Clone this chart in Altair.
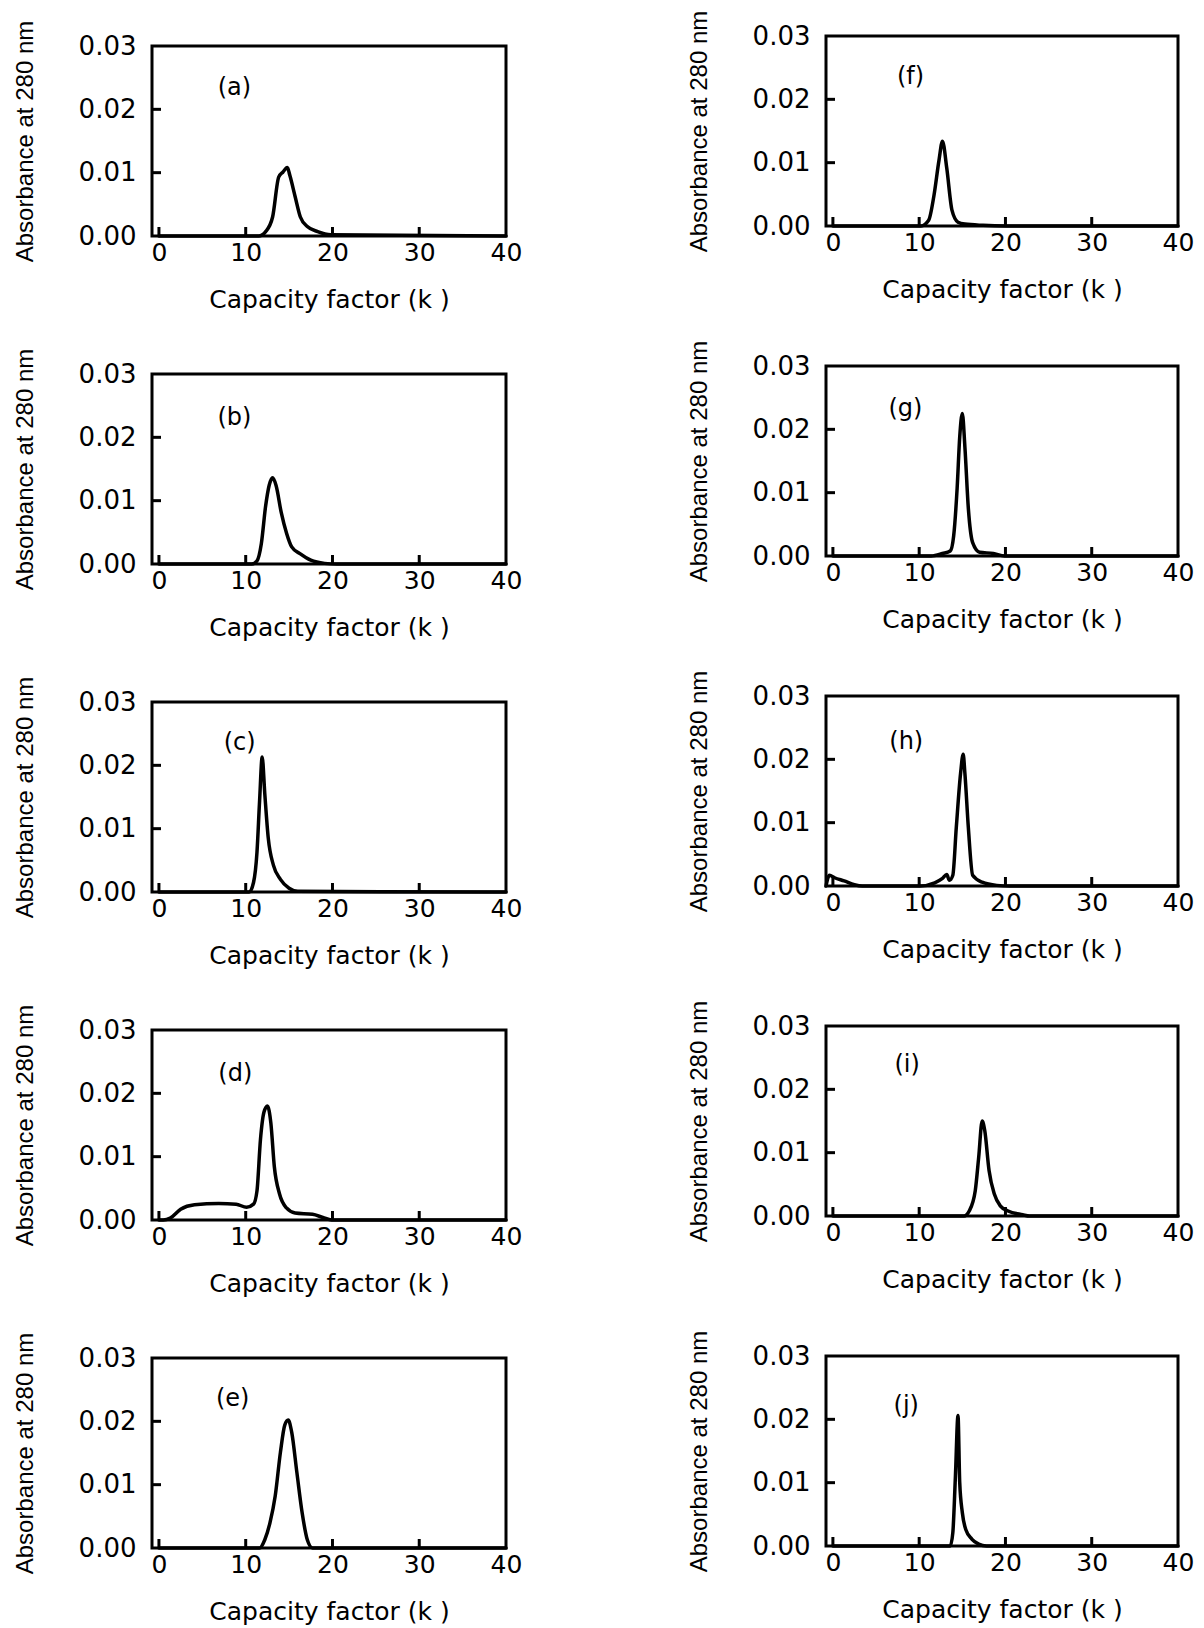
import altair as alt
import pandas as pd

# ---------------- data ----------------
panel_ids = ["a", "b", "c", "d", "e", "f", "g", "h", "i", "j"]
label_k = [8.7, 8.7, 9.3, 8.8, 8.5, 9.0, 8.4, 8.5, 8.6, 8.5]
label_abs = [0.0233, 0.0231, 0.0235, 0.0231, 0.0235, 0.0235, 0.0232, 0.0228, 0.0239, 0.0221]

x_tick_values = [0, 10, 20, 30, 40]
y_tick_values = [0.0, 0.01, 0.02, 0.03]
x_inner_ticks = [0, 10, 20, 30]
y_inner_ticks = [0.01, 0.02]

a_k = [0, 11.5, 12.3, 13.1, 13.8, 14.3, 14.8, 15.1, 15.7, 16.3, 17.1, 18.3, 19.8, 40]
a_abs = [0, 0, 0.0007, 0.003, 0.0093, 0.0101, 0.0108, 0.0095, 0.0062, 0.003, 0.0015, 0.0007, 0.0002, 0]

b_k = [0, 10.7, 11.3, 11.8, 12.3, 12.7, 13.1, 13.5, 14.1, 14.7, 15.3, 16.3, 17.5, 19.1, 20.5, 40]
b_abs = [0, 0, 0.0005, 0.0032, 0.0092, 0.0124, 0.0136, 0.0124, 0.0081, 0.0049, 0.0027, 0.0016, 0.0006, 0.0001, 0, 0]

c_k = [0, 10.4, 10.9, 11.3, 11.6, 11.9, 12.2, 12.6, 13.2, 14.0, 15.0, 16.0, 40]
c_abs = [0, 0, 0.0015, 0.0063, 0.0144, 0.0213, 0.0155, 0.0085, 0.0042, 0.002, 0.0006, 0.0001, 0]

d_k = [0, 0.5, 1.3, 2.5, 4.1, 6.9, 8.9, 10.1, 10.9, 11.3, 11.7, 12.1, 12.5, 12.9, 13.3, 13.9, 14.7, 15.7, 17.7, 18.9, 19.9, 40]
d_abs = [0, 0, 0.0003, 0.0017, 0.0024, 0.0026, 0.0025, 0.002, 0.0025, 0.0046, 0.0127, 0.017, 0.018, 0.0153, 0.0084, 0.0041, 0.0019, 0.0011, 0.0009, 0.0004, 0, 0]

e_k = [0, 11.6, 12.2, 12.8, 13.4, 14.0, 14.5, 14.9, 15.3, 15.9, 16.5, 17.1, 17.7, 40]
e_abs = [0, 0, 0.0013, 0.004, 0.0082, 0.0151, 0.0194, 0.0202, 0.0183, 0.0119, 0.0056, 0.0013, 0, 0]

f_k = [0, 10.2, 11.1, 11.7, 12.3, 12.7, 13.2, 13.8, 14.5, 15.3, 17.4, 20.0, 40]
f_abs = [0, 0, 0.0009, 0.0047, 0.0104, 0.0134, 0.0091, 0.0025, 0.0006, 0.0003, 0.0001, 0, 0]

g_k = [0, 11.4, 12.7, 13.6, 14.0, 14.4, 14.7, 15.0, 15.3, 15.7, 16.2, 17.0, 18.6, 19.9, 40]
g_abs = [0, 0, 0.0004, 0.0008, 0.0032, 0.0107, 0.0188, 0.0225, 0.0172, 0.0075, 0.0021, 0.0006, 0.0004, 0, 0]

h_k = [-0.8, -0.4, 0.2, 1.3, 2.5, 3.4, 10.1, 11.8, 12.7, 13.2, 13.5, 13.9, 14.3, 14.8, 15.1, 15.3, 15.7, 16.2, 17.3, 19.0, 20.5, 40]
h_abs = [0, 0.0017, 0.0013, 0.0008, 0.0002, 0, 0, 0.0005, 0.0012, 0.0018, 0.0009, 0.0017, 0.0092, 0.0178, 0.0208, 0.0178, 0.0092, 0.0017, 0.0006, 0.0001, 0, 0]

i_k = [0, 15.2, 15.8, 16.5, 16.9, 17.3, 17.6, 18.1, 18.7, 19.4, 20.3, 22.0, 22.8, 40]
i_abs = [0, 0, 0.0008, 0.004, 0.0093, 0.015, 0.0135, 0.0072, 0.0035, 0.0016, 0.0008, 0.0002, 0, 0]

j_k = [0, 13.6, 13.9, 14.2, 14.5, 14.7, 15.0, 15.4, 16.1, 16.9, 17.8, 40]
j_abs = [0, 0, 0.0021, 0.011, 0.0206, 0.01, 0.0053, 0.0026, 0.0011, 0.0003, 0, 0]

series = {
    "a": (a_k, a_abs), "b": (b_k, b_abs), "c": (c_k, c_abs), "d": (d_k, d_abs),
    "e": (e_k, e_abs), "f": (f_k, f_abs), "g": (g_k, g_abs), "h": (h_k, h_abs),
    "i": (i_k, i_abs), "j": (j_k, j_abs),
}

# ---------------- style ----------------
TICK_FONT = "DejaVu Sans"
YTITLE_FONT = "Liberation Sans"
LEFT_W, RIGHT_W, PANEL_H = 354, 352, 190
INNER_TICK = 9


def panel(pid, width, height):
    ks, vals = series[pid]
    idx = panel_ids.index(pid)
    xs = alt.Scale(domain=[-0.8, 40], nice=False, zero=False)
    ys = alt.Scale(domain=[0, 0.03], nice=False, zero=False)
    xax = alt.Axis(values=x_tick_values, format="d", title="Capacity factor (k )",
                   labelFlush=False, ticks=False, domain=False, grid=False,
                   labelPadding=4, titlePadding=22,
                   labelFont=TICK_FONT, labelFontSize=25, labelColor="black",
                   titleFont=TICK_FONT, titleFontSize=25, titleFontWeight="normal",
                   titleColor="black")
    yax = alt.Axis(values=y_tick_values, format=".2f", title="Absorbance at 280 nm",
                   ticks=False, domain=False, grid=False,
                   labelPadding=16, titlePadding=41,
                   labelFont=TICK_FONT, labelFontSize=26, labelColor="black",
                   titleFont=YTITLE_FONT, titleFontSize=24, titleFontWeight="normal",
                   titleColor="black")
    X = alt.X("k:Q", scale=xs, axis=xax)
    Y = alt.Y("absorbance:Q", scale=ys, axis=yax)

    line = alt.Chart(pd.DataFrame({"k": ks, "absorbance": vals})).mark_line(
        color="black", strokeWidth=3.5, interpolate="monotone",
        strokeJoin="round", strokeCap="round").encode(x=X, y=Y)
    xt = alt.Chart(pd.DataFrame({"k": x_inner_ticks})).mark_rule(
        color="black", strokeWidth=3).encode(
        x=X, y=alt.value(height), y2=alt.value(height - INNER_TICK))
    yt = alt.Chart(pd.DataFrame({"absorbance": y_inner_ticks})).mark_rule(
        color="black", strokeWidth=3).encode(
        y=Y, x=alt.value(0), x2=alt.value(INNER_TICK))
    lbl = alt.Chart(pd.DataFrame({"k": [label_k[idx]], "absorbance": [label_abs[idx]],
                                  "t": [f"({pid})"]})).mark_text(
        font=TICK_FONT, fontSize=24, color="black").encode(x=X, y=Y, text="t:N")
    return alt.layer(line, xt, yt, lbl).properties(width=width, height=height)


spacer = alt.Chart(pd.DataFrame({"k": [0]})).mark_point(opacity=0).encode(
    x=alt.X("k:Q", axis=None), y=alt.Y("k:Q", axis=None)
).properties(width=LEFT_W, height=10, view=alt.ViewBackground(strokeOpacity=0))

left_inner = alt.vconcat(*[panel(p, LEFT_W, PANEL_H) for p in panel_ids[:5]],
                         spacing=138, bounds="flush")
left_col = alt.vconcat(spacer, left_inner, spacing=0, bounds="flush")
right_col = alt.vconcat(*[panel(p, RIGHT_W, PANEL_H) for p in panel_ids[5:]],
                        spacing=140, bounds="flush")

chart = alt.hconcat(left_col, right_col, spacing=674, bounds="flush").properties(
    padding={"left": 3, "top": 0, "right": 0, "bottom": 0},
    background="white",
).configure_view(stroke="black", strokeWidth=3)

chart.save("out.html", embed_options={"renderer": "svg", "actions": False})
